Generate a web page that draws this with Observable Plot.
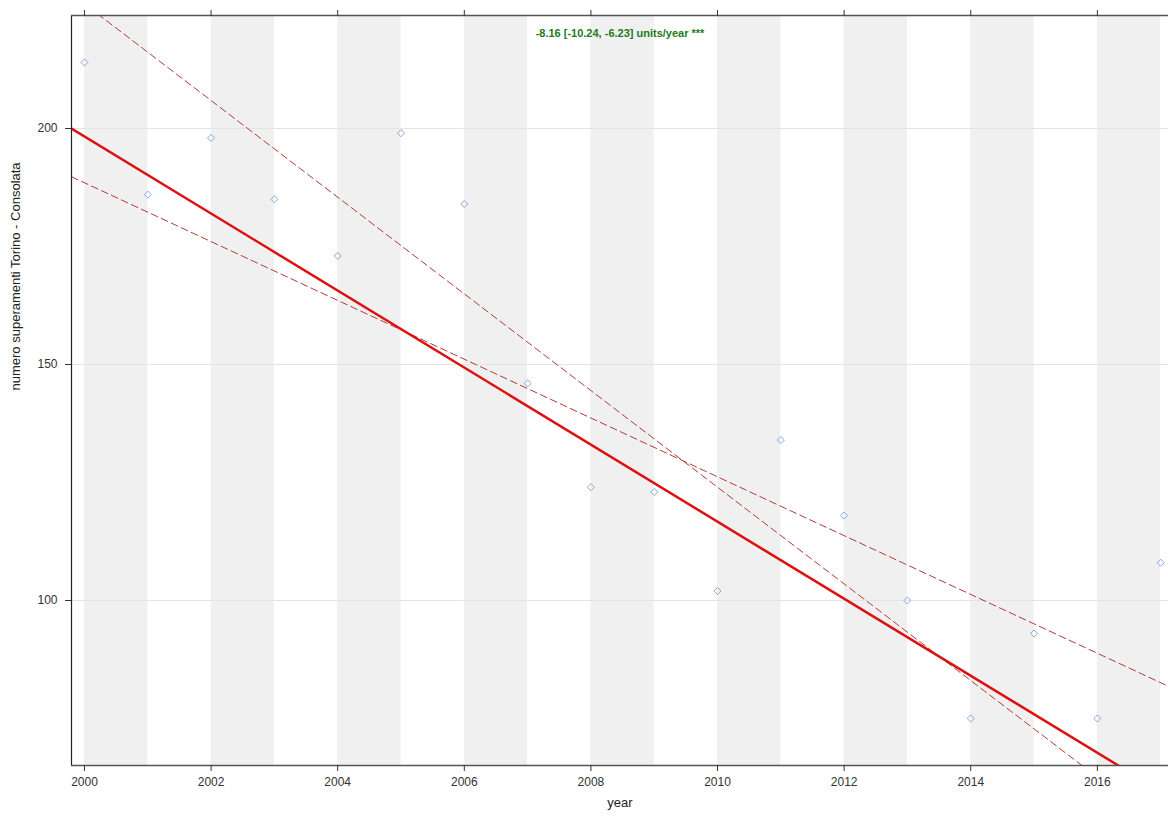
<!DOCTYPE html>
<html>
<head>
<meta charset="utf-8">
<script src="https://cdn.jsdelivr.net/npm/d3@7"></script>
<script src="https://cdn.jsdelivr.net/npm/@observablehq/plot@0.6"></script>
<style>
  html, body { margin: 0; padding: 0; background: #fff; }
  #chart svg { display: block; }
</style>
</head>
<body>
<div id="chart"></div>
<script>
// Data
const years = [2000, 2001, 2002, 2003, 2004, 2005, 2006, 2007, 2008, 2009, 2010, 2011, 2012, 2013, 2014, 2015, 2016, 2017];
const values = [214, 186, 198, 185, 173, 199, 184, 146, 124, 123, 102, 134, 118, 100, 75, 93, 75, 108];

// Theil-Sen trend (slope per year) and its confidence bounds; intercepts at year 2000
const trendNames = ["trend", "lower", "upper"];
const trendSlopes = [-8.16, -10.24, -6.23];
const trendIntercepts = [198.3, 226.4, 188.5];
const trendLabel = "-8.16 [-10.24, -6.23] units/year ***";

const xTicks = [2000, 2002, 2004, 2006, 2008, 2010, 2012, 2014, 2016];
const yTicks = [100, 150, 200];
const stripeStarts = [2000, 2002, 2004, 2006, 2008, 2010, 2012, 2014, 2016];

const xDomain = [1999.795, 2017.124];
const yDomain = [65.04, 223.94];

const points = years.map((y, i) => ({year: y, value: values[i]}));
const trendLines = [];
trendNames.forEach((name, i) => {
  xDomain.forEach(x => {
    trendLines.push({name, year: x, value: trendIntercepts[i] + trendSlopes[i] * (x - 2000)});
  });
});

const font = "Liberation Sans, Arial, Helvetica, sans-serif";

const chart = Plot.plot({
  width: 1168,
  height: 816,
  marginLeft: 71,
  marginRight: 0,
  marginTop: 15,
  marginBottom: 51,
  style: {fontFamily: font, fontSize: "12px", color: "#222", background: "#fff", overflow: "visible"},
  x: {domain: xDomain},
  y: {domain: yDomain},
  marks: [
    Plot.rect(stripeStarts, {x1: d => d, x2: d => d + 1, fill: "#f0f0f0", clip: true}),
    Plot.ruleY(yTicks, {stroke: "#e4e4e4", strokeWidth: 1}),
    Plot.line(trendLines.filter(d => d.name !== "trend"), {
      x: "year", y: "value", z: "name", stroke: "#b33a3a", strokeWidth: 1,
      strokeDasharray: "7,4", clip: true
    }),
    Plot.line(trendLines.filter(d => d.name === "trend"), {
      x: "year", y: "value", stroke: "#dd1111", strokeWidth: 2.5, clip: true
    }),
    Plot.dot(points, {x: "year", y: "value", symbol: "diamond2", r: 3.2, stroke: "#7f9fd8", strokeWidth: 0.9, fill: "none"}),
    Plot.ruleX([xDomain[0]], {stroke: "#222", strokeWidth: 1.2}),
    Plot.ruleY([yDomain[0]], {stroke: "#555", strokeWidth: 1.5}),
    Plot.ruleY([yDomain[1]], {stroke: "#555", strokeWidth: 1.5}),
    Plot.axisX({anchor: "bottom", ticks: xTicks, tickFormat: d => String(d), tickSize: 6, tickPadding: 6, label: null, fontSize: 12, stroke: "#333", fill: "#333"}),
    Plot.axisX({anchor: "top", ticks: xTicks, tickFormat: () => "", tickSize: 6, label: null, stroke: "#333"}),
    Plot.axisY({anchor: "left", ticks: yTicks, tickSize: 6, tickPadding: 8, label: null, fontSize: 12, stroke: "#333", fill: "#333"}),
    Plot.text([trendLabel], {frameAnchor: "top", dy: 14, fill: "#217a21", fontWeight: "bold", fontSize: 11}),
    Plot.text(["year"], {frameAnchor: "bottom", dy: 41, fill: "#222", fontSize: 13}),
    Plot.text(["numero superamenti Torino - Consolata"], {frameAnchor: "left", dx: -56, rotate: -90, fill: "#222", fontSize: 13})
  ]
});

document.getElementById("chart").appendChild(chart);
</script>
</body>
</html>
